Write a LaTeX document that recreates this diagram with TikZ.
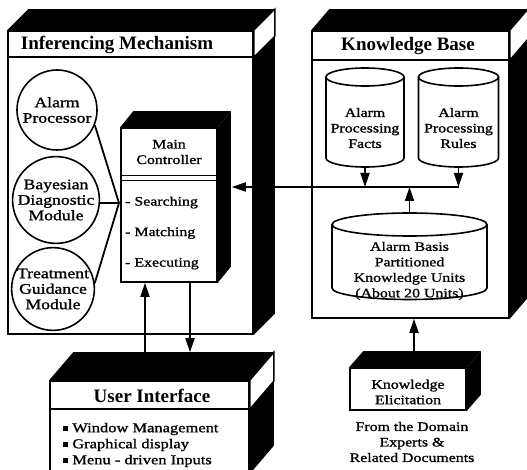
\documentclass[tikz,border=0pt]{standalone}
\usepackage{fontspec}
\setmainfont{Liberation Serif}
\newfontfamily\bodyfont{Liberation Serif}[FakeStretch=1.22, FakeBold=1.2]
\usetikzlibrary{calc,arrows.meta}

% black top and right faces of an extruded box
\newcommand\solidbox[3]{%
  \fill (#1.north west) -- ++(#2,-#3) -- ([shift={(#2,-#3)}]#1.north east) -- (#1.north east) -- cycle;
  \fill (#1.north east) -- ++(#2,-#3) -- ([shift={(#2,-#3)}]#1.south east) -- (#1.south east) -- cycle;}
% white side face of a title band
\newcommand\bandside[4]{%
  \filldraw[fill=white, line width=1.4pt] (#1.north east) -- ++(#2,-#3) -- ++(0,#4) -- ++(-#2,#3) -- cycle;}
% outline of a drum (database cylinder) around a body node
\newcommand\drum[3]{%
  \draw[line width=1.6pt] (#1.north west) -- (#1.south west)
    arc[start angle=180, end angle=360, x radius=#2, y radius=#3] -- (#1.north east);
  \draw[line width=1.6pt] (#1.north) ellipse[x radius=#2, y radius=#3];}
\newcommand\uibullet{\rule[1pt]{5pt}{5pt}}

\tikzset{
  face/.style={draw, line width=1.6pt, fill=white, inner sep=0pt},
  txt/.style={inner sep=0pt, align=center, font=\bodyfont\fontsize{13}{15.5}\selectfont},
  bubble/.style={circle, draw, line width=1.6pt, fill=white, minimum size=80pt, inner sep=0pt,
    align=center, font=\bodyfont\fontsize{14.5}{15.5}\selectfont},
  ttl/.style={inner sep=0pt, font=\fontsize{19}{22}\selectfont\bfseries},
  drumbody/.style={inner sep=0pt, outer sep=0pt},
  wire/.style={line width=1.8pt},
  arr/.style={line width=1.8pt, -{Triangle[length=14pt,width=9pt]}},
}

\begin{document}
\begin{tikzpicture}[x=1pt,y=-1pt]
\useasboundingbox (0,0) rectangle (527,470);
\clip (0,0) rectangle (527,470);

% ---- Inferencing mechanism ----
\node[face, minimum width=245pt, minimum height=303pt] (inf) at (130.5,182.5) {};
\solidbox{inf}{21}{21}
\bandside{inf}{21}{21}{27}
\draw[line width=1.6pt] ([yshift=-27pt]inf.north west) -- ([yshift=-27pt]inf.north east);
\node[ttl] (inftitle) at (117,45) {Inferencing Mechanism};

\node[bubble] (ap) at (57,110) {Alarm\\Processor};
\node[bubble] (bd) at (56,200) {Bayesian\\Diagnostic\\Module};
\node[bubble] (tg) at (53,289) {Treatment\\Guidance\\Module};

% main controller
\node[face, minimum width=96pt, minimum height=154pt] (ctl) at (169,205) {};
\solidbox{ctl}{13}{16}
\draw[line width=1.3pt] ([yshift=-48pt]ctl.north west) -- ([yshift=-48pt]ctl.north east);
\draw[line width=1.3pt] ([yshift=-53pt]ctl.north west) -- ([yshift=-53pt]ctl.north east);
\node[txt] (ctltitle) at (169,152) {Main\\Controller};
\node[txt, align=left, anchor=west] (ctlitems) at (125,233) {- Searching\\[15pt]- Matching\\[15pt]- Executing};

\coordinate (j) at (119,203);
\draw[wire] (ap.-22) -- (j);
\draw[wire] (bd.east |- j) -- (j);
\draw[wire] (tg.8) -- (j);

% ---- Knowledge base ----
\node[face, minimum width=197pt, minimum height=287pt] (kb) at (410.5,174.5) {};
\solidbox{kb}{18}{21}
\bandside{kb}{18}{21}{30}
\draw[line width=1.6pt] ([yshift=-30pt]kb.north west) -- ([yshift=-30pt]kb.north east);
\node[ttl] (kbtitle) at (408,46) {Knowledge Base};

\node[drumbody, minimum width=78pt, minimum height=81pt] (facts) at (365,117.5) {};
\drum{facts}{39pt}{9pt}
\node[txt] (factsT) at (365,128) {Alarm\\Processing\\Facts};

\node[drumbody, minimum width=80pt, minimum height=81pt] (rules) at (458.5,117.5) {};
\drum{rules}{40pt}{9pt}
\node[txt] (rulesT) at (458.5,128) {Alarm\\Processing\\Rules};

\node[drumbody, minimum width=155pt, minimum height=63.5pt] (basis) at (409.5,256.25) {};
\drum{basis}{77.5pt}{11.5pt}
\node[txt] (basisT) at (409.5,271) {Alarm Basis\\Partitioned\\Knowledge Units\\(About 20 Units)};

% bus between the knowledge base and the controller
\coordinate (bus) at (0,187);
\coordinate (ctlside) at ([xshift=14pt]ctl.east);
\draw[arr] (rules.south |- bus) -- (ctlside |- bus);
\draw[arr] ([yshift=-9pt]facts.south) -- (facts.south |- bus);
\draw[arr] ([yshift=-9pt]rules.south) -- (rules.south |- bus);
\draw[arr] ([yshift=11.5pt]basis.north) -- (basis.north |- bus);

% ---- Knowledge elicitation ----
\node[face, minimum width=116pt, minimum height=42pt] (elic) at (408,389) {};
\solidbox{elic}{14}{16}
\node[txt] (elicT) at (408,392) {Knowledge\\Elicitation};
\coordinate (elictop) at ([shift={(6,-16)}]elic.north);
\draw[arr] (elictop) -- (elictop |- kb.south);
\node[txt] (src) at (412,442) {From the Domain\\Experts \&\\Related Documents};

% ---- User interface ----
\node[face, minimum width=199pt, minimum height=92pt] (ui) at (149.5,427) {};
\solidbox{ui}{24}{28}
\bandside{ui}{24}{28}{29}
\draw[line width=1.6pt] ([yshift=-29pt]ui.north west) -- ([yshift=-29pt]ui.north east);
\node[ttl] (uititle) at (152,396) {User Interface};
\node[txt, align=left, anchor=west, font=\bodyfont\fontsize{13.5}{16}\selectfont] (uiitems) at (63,445) {\uibullet\ Window Management\\\uibullet\ Graphical display\\\uibullet\ Menu - driven Inputs};

\coordinate (uitop) at ([yshift=28pt]ui.north);
\coordinate (upA) at ([xshift=-24pt]ctl.south);
\coordinate (dnA) at ([xshift=21pt]ctl.south);
\draw[arr] (upA |- uitop) -- (upA);
\draw[arr] (dnA) -- (dnA |- uitop);
\end{tikzpicture}
\end{document}
